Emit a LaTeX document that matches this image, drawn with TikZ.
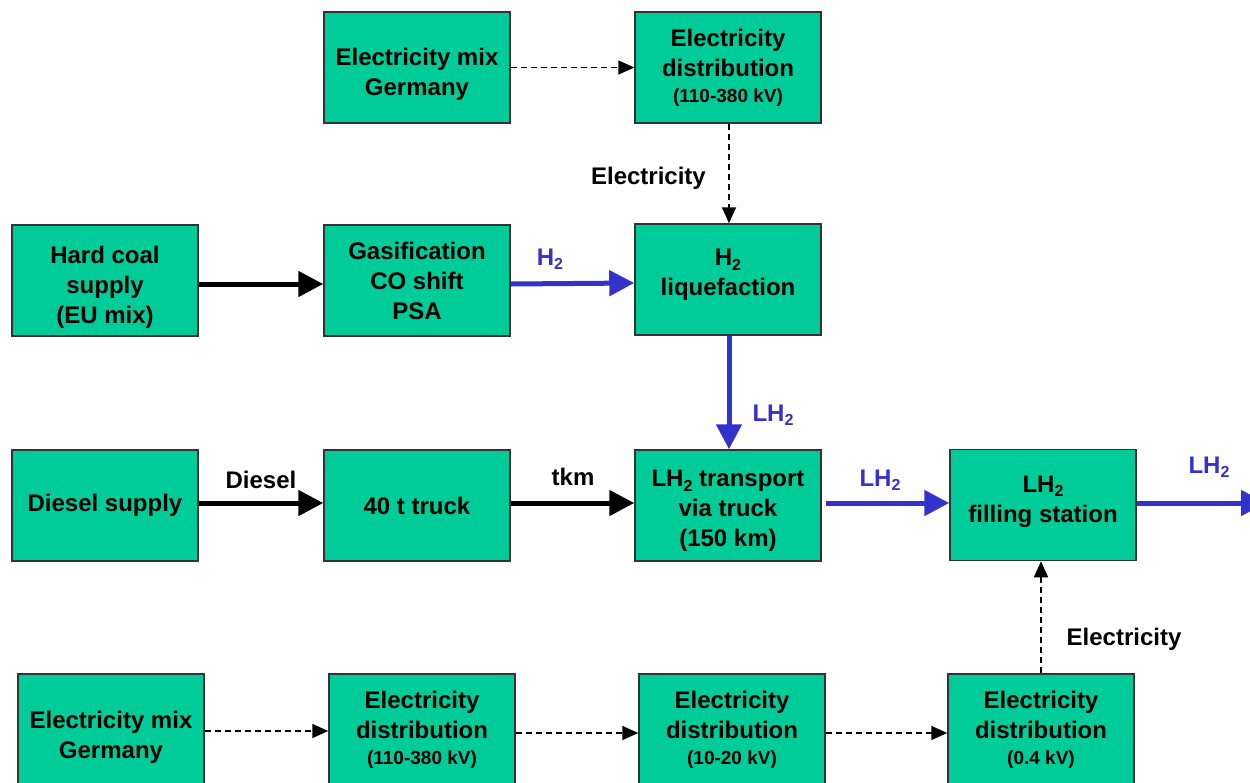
\documentclass[tikz,border=0pt]{standalone}
\usepackage{fontspec}
\setmainfont{Liberation Sans}
\usetikzlibrary{arrows.meta}
\definecolor{boxgreen}{HTML}{00CC99}
\definecolor{flowblue}{HTML}{3333CC}
\definecolor{boxline}{HTML}{333333}
\newcommand\mysub[1]{\raisebox{-0.35ex}{\fontsize{16}{16}\selectfont #1}}
\newcommand\padtop[1]{\rule{0pt}{#1}}
\newcommand\padbot[1]{\rule[-#1]{0pt}{1pt}}
\begin{document}
\begin{tikzpicture}[x=1pt,y=1pt,
  box/.style={draw=boxline, fill=boxgreen, line width=1.5pt, minimum width=186pt, minimum height=111pt, align=center, inner sep=2pt, font=\bfseries\fontsize{24}{30}\selectfont},
  lbl/.style={font=\bfseries\fontsize{24}{30}\selectfont, inner sep=0pt},
  bluelbl/.style={lbl, text=flowblue},
  thickarrow/.style={line width=5pt, -{Triangle[length=25pt,width=25pt]}},
  blackflow/.style={thickarrow, draw=black},
  blueflow/.style={thickarrow, draw=flowblue},
  dasharrow/.style={line width=1.6pt, dash pattern=on 6pt off 4pt, -{Triangle[length=16pt,width=14pt]}}
]
\useasboundingbox (0,0) rectangle (1250,-782);
\fill[white] (0,0) rectangle (1250,-782);

% top row
\node[box] (emT) at (417,-67.5) {\padtop{31.5pt}Electricity mix\\Germany};
\node[box] (edT) at (728,-67.5) {Electricity\\distribution\\[-4pt]{\fontsize{19}{24}\selectfont (110-380 kV)}};

% second row
\node[box] (coal) at (105,-280.5) {\padtop{31.5pt}Hard coal\\supply\\(EU mix)};
\node[box] (gas) at (417,-280.5) {Gasification\\CO shift\\PSA};
\node[box] (liq) at (728,-279.5) {H\mysub{2}\\liquefaction\padbot{14pt}};

% third row
\node[box] (diesel) at (105,-505.5) {Diesel supply};
\node[box] (truck) at (417,-505.5) {40 t truck};
\node[box] (trans) at (728,-505.5) {\padtop{27.5pt}LH\mysub{2} transport\\via truck\\(150 km)};
\node[box] (fill) at (1043,-505) {LH\mysub{2}\\filling station\padbot{12pt}};

% bottom row
\node[box] (emB) at (111,-729.5) {\padtop{33pt}Electricity mix\\Germany};
\node[box] (edB1) at (422,-729.5) {Electricity\\distribution\\[-4pt]{\fontsize{19}{24}\selectfont (110-380 kV)}};
\node[box] (edB2) at (732,-729.5) {Electricity\\distribution\\[-4pt]{\fontsize{19}{24}\selectfont (10-20 kV)}};
\node[box] (edB3) at (1041,-729.5) {Electricity\\distribution\\[-4pt]{\fontsize{19}{24}\selectfont (0.4 kV)}};

\coordinate (out) at (1266,-503);

% connectors
\draw[dasharrow] (emT.east) -- (edT.west);
\draw[dasharrow] ([xshift=1pt]edT.south) -- ([xshift=1pt]liq.north);
\draw[blackflow] ([yshift=-3.5pt]coal.east) -- ([yshift=-3.5pt]gas.west);
\draw[blueflow] ([yshift=-3.5pt]gas.east) -- ([yshift=-3.5pt]liq.west);
\draw[blueflow] ([xshift=1pt]liq.south) -- ([xshift=1pt]trans.north);
\draw[blackflow] ([yshift=2.5pt]diesel.east) -- ([yshift=2.5pt]truck.west);
\draw[blackflow] ([yshift=2.5pt]truck.east) -- ([yshift=2.5pt]trans.west);
\draw[blueflow] ([xshift=4pt,yshift=2.5pt]trans.east) -- ([yshift=2pt]fill.west);
\draw[blueflow] ([yshift=2pt]fill.east) -- (out);
\draw[dasharrow] (edB3.north) -- (edB3.north |- fill.south);
\draw[dasharrow] ([yshift=-1.5pt]emB.east) -- ([yshift=-1.5pt]edB1.west);
\draw[dasharrow] ([yshift=-3.5pt]edB1.east) -- ([yshift=-3.5pt]edB2.west);
\draw[dasharrow] ([yshift=-3.5pt]edB2.east) -- ([yshift=-3.5pt]edB3.west);

% labels
\node[lbl, anchor=east] (lElec1) at (706,-178) {Electricity};
\node[bluelbl] (lH2) at (550,-259) {H\mysub{2}};
\node[bluelbl] (lLH2a) at (773,-415) {LH\mysub{2}};
\node[lbl] (lDiesel) at (261,-480) {Diesel};
\node[lbl] (ltkm) at (573,-477) {tkm};
\node[bluelbl] (lLH2b) at (880,-480) {LH\mysub{2}};
\node[bluelbl] (lLH2c) at (1209,-467) {LH\mysub{2}};
\node[lbl] (lElec2) at (1124,-639) {Electricity};
\end{tikzpicture}
\end{document}
